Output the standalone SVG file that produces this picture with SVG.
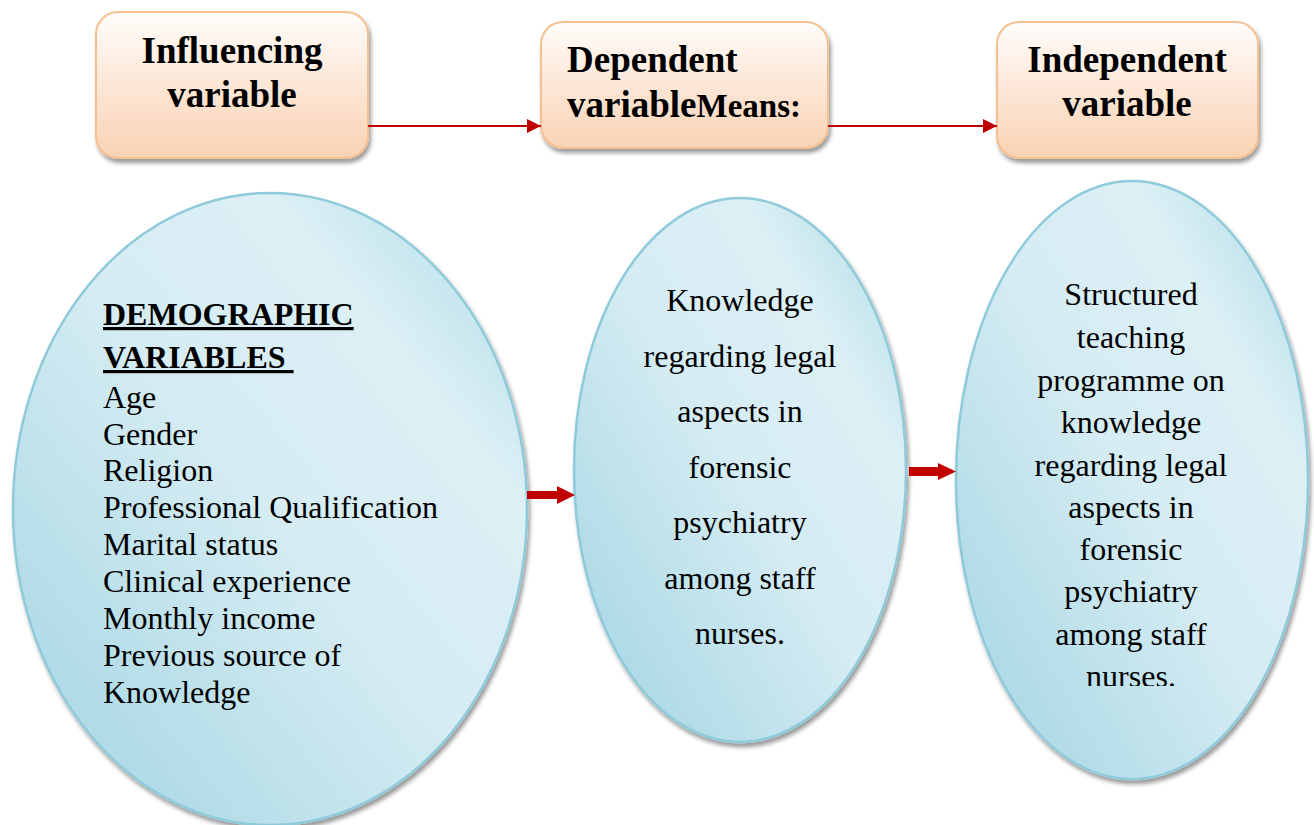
<svg xmlns="http://www.w3.org/2000/svg" width="1314" height="825" viewBox="0 0 1314 825">
  <defs>
    <linearGradient id="boxFill" x1="0" y1="0" x2="0" y2="1">
      <stop offset="0" stop-color="#fffdfb"/>
      <stop offset="0.45" stop-color="#fde9da"/>
      <stop offset="1" stop-color="#f9d2b3"/>
    </linearGradient>
    <linearGradient id="ovalFill" x1="0" y1="1" x2="1" y2="0">
      <stop offset="0" stop-color="#9fd3e1"/>
      <stop offset="0.5" stop-color="#d5ecf3"/>
      <stop offset="0.75" stop-color="#dcf0f5"/>
      <stop offset="1" stop-color="#a9d8e5"/>
    </linearGradient>
    <filter id="shadow" x="-10%" y="-10%" width="120%" height="120%">
      <feGaussianBlur in="SourceAlpha" stdDeviation="2"/>
      <feOffset dx="2" dy="4" result="b"/>
      <feComponentTransfer><feFuncA type="linear" slope="0.4"/></feComponentTransfer>
      <feMerge><feMergeNode/><feMergeNode in="SourceGraphic"/></feMerge>
    </filter>
    <marker id="thinHead" viewBox="0 0 10 10" refX="10" refY="5" markerWidth="14" markerHeight="14" markerUnits="userSpaceOnUse" orient="auto">
      <path d="M0,0 L10,5 L0,10 Z" fill="#c00000"/>
    </marker>
    <clipPath id="clip3">
      <rect x="940" y="170" width="374" height="516"/>
    </clipPath>
  </defs>
  <style>
    .box { fill: url(#boxFill); stroke: #f5c193; stroke-width: 2; }
    .oval { fill: url(#ovalFill); stroke: #8fcadb; stroke-width: 2.5; }
    .head { font-family: "Liberation Serif", "Times New Roman", serif; font-weight: bold; font-size: 37px; fill: #000; }
    .sub { font-family: "Liberation Serif", "Times New Roman", serif; font-weight: bold; font-size: 32px; fill: #000; text-decoration: underline; }
    .body { font-family: "Liberation Serif", "Times New Roman", serif; font-size: 32px; fill: #000; }
    .link { stroke: #c00000; stroke-width: 2; fill: none; }
    .block { fill: #c00000; }
  </style>

  <!-- header boxes -->
  <g id="influencing">
    <rect class="box" x="96" y="12" width="272" height="146" rx="22" filter="url(#shadow)"/>
    <text class="head" x="232" y="63" text-anchor="middle">Influencing</text>
    <text class="head" x="232" y="107" text-anchor="middle">variable</text>
  </g>
  <g id="dependent">
    <rect class="box" x="541" y="22" width="287" height="126" rx="22" filter="url(#shadow)"/>
    <text class="head" x="567" y="72">Dependent</text>
    <text class="head" x="567" y="117">variable<tspan style="font-size:33px">Means:</tspan></text>
  </g>
  <g id="independent">
    <rect class="box" x="997" y="22" width="261" height="136" rx="22" filter="url(#shadow)"/>
    <text class="head" x="1127" y="72" text-anchor="middle">Independent</text>
    <text class="head" x="1127" y="116" text-anchor="middle">variable</text>
  </g>

  <!-- ovals -->
  <g id="demographic">
    <ellipse class="oval" cx="270" cy="509" rx="257" ry="316" filter="url(#shadow)"/>
    <text class="sub" x="103" y="325">DEMOGRAPHIC</text>
    <text class="sub" x="103" y="368" xml:space="preserve">VARIABLES </text>
    <text class="body" x="103" y="408">Age</text>
    <text class="body" x="103" y="445">Gender</text>
    <text class="body" x="103" y="481">Religion</text>
    <text class="body" x="103" y="518">Professional Qualification</text>
    <text class="body" x="103" y="555">Marital status</text>
    <text class="body" x="103" y="592">Clinical experience</text>
    <text class="body" x="103" y="629">Monthly income</text>
    <text class="body" x="103" y="666">Previous source of</text>
    <text class="body" x="103" y="703">Knowledge</text>
  </g>
  <g id="knowledge">
    <ellipse class="oval" cx="740" cy="470" rx="166" ry="272" filter="url(#shadow)"/>
    <g text-anchor="middle">
      <text class="body" x="740" y="311">Knowledge</text>
      <text class="body" x="740" y="367">regarding legal</text>
      <text class="body" x="740" y="422">aspects in</text>
      <text class="body" x="740" y="478">forensic</text>
      <text class="body" x="740" y="533">psychiatry</text>
      <text class="body" x="740" y="589">among staff</text>
      <text class="body" x="740" y="644">nurses.</text>
    </g>
  </g>
  <g id="teaching">
    <ellipse class="oval" cx="1132" cy="480" rx="176" ry="299" filter="url(#shadow)"/>
    <g clip-path="url(#clip3)" text-anchor="middle">
      <text class="body" x="1131" y="305">Structured</text>
      <text class="body" x="1131" y="348">teaching</text>
      <text class="body" x="1131" y="391">programme on</text>
      <text class="body" x="1131" y="433">knowledge</text>
      <text class="body" x="1131" y="476">regarding legal</text>
      <text class="body" x="1131" y="518">aspects in</text>
      <text class="body" x="1131" y="560">forensic</text>
      <text class="body" x="1131" y="602">psychiatry</text>
      <text class="body" x="1131" y="645">among staff</text>
      <text class="body" x="1131" y="687">nurses.</text>
    </g>
  </g>

  <!-- connectors -->
  <g id="connectors">
    <line class="link" x1="368" y1="126" x2="541" y2="126" marker-end="url(#thinHead)"/>
    <line class="link" x1="828" y1="126" x2="997" y2="126" marker-end="url(#thinHead)"/>
    <polygon class="block" points="527,491 557,491 557,486 575,495 557,504 557,499 527,499"/>
    <polygon class="block" points="909,467 938,467 938,463 956,471.5 938,480 938,476 909,476"/>
  </g>
</svg>
